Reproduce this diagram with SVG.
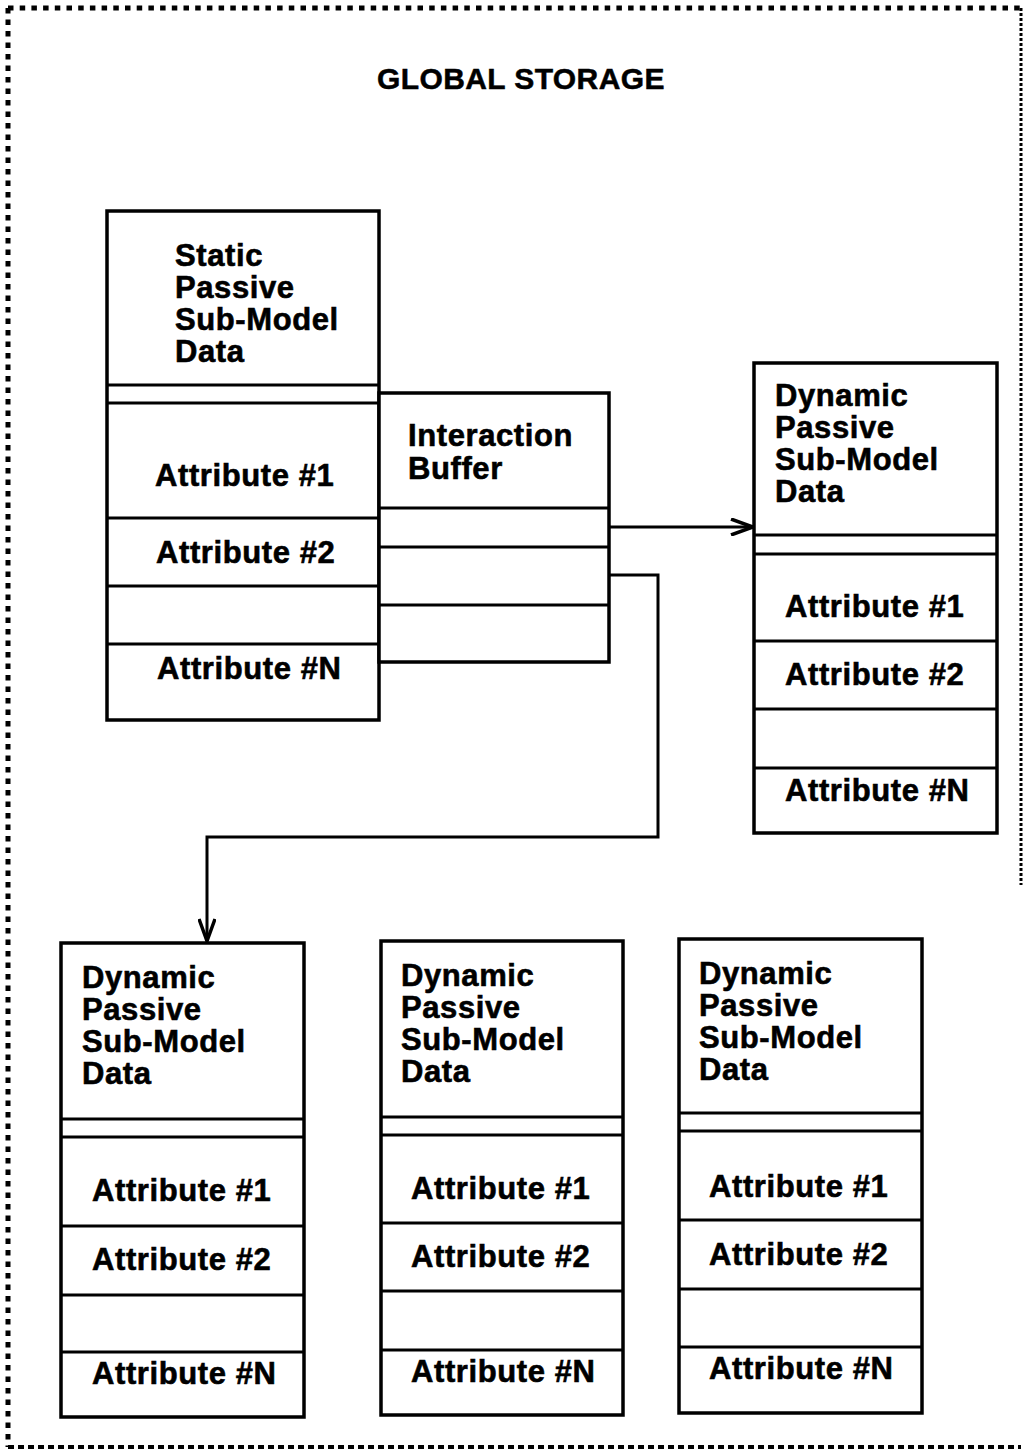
<svg xmlns="http://www.w3.org/2000/svg" width="1025" height="1454" viewBox="0 0 1025 1454">
  <style>
    .frame { fill: #fff; stroke: #000; stroke-width: 3.5; }
    .sep { stroke: #000; stroke-width: 3; fill: none; }
    .lbl { font-family: "Liberation Sans", Arial, Helvetica, sans-serif; font-weight: bold; font-size: 31px; letter-spacing: 0.6px; fill: #000; stroke: #000; stroke-width: 0.6px; }
    .title { font-family: "Liberation Sans", Arial, Helvetica, sans-serif; font-weight: bold; font-size: 30px; letter-spacing: 0.4px; fill: #000; stroke: #000; stroke-width: 0.5px; }
    .wire { fill: none; stroke: #000; stroke-width: 3; }
    .border { fill: none; stroke: #000; }
  </style>
  <defs>
    <marker id="vee" viewBox="0 0 24 18" refX="23" refY="9" markerWidth="24" markerHeight="18" markerUnits="userSpaceOnUse" orient="auto">
      <path d="M1,1 L23,9 L1,17" fill="none" stroke="#000" stroke-width="3.5"/>
    </marker>
  </defs>

  <rect x="0" y="0" width="1025" height="1454" fill="#fff"/>

  <!-- dotted storage boundary -->
  <g id="storage-boundary">
    <line class="border" x1="8" y1="8" x2="1021" y2="8" stroke-width="5" stroke-dasharray="5.5 6.2"/>
    <line class="border" x1="8" y1="8" x2="8" y2="1447" stroke-width="5" stroke-dasharray="5.5 6"/>
    <line class="border" x1="8" y1="1447" x2="1021" y2="1447" stroke-width="4" stroke-dasharray="6 4"/>
    <line class="border" x1="1021" y1="8" x2="1021" y2="885" stroke-width="3" stroke-dasharray="3 2"/>
    <text class="title" x="377" y="89">GLOBAL STORAGE</text>
  </g>

  <!-- connectors -->
  <g id="connectors">
    <path class="wire" d="M609,527 H753" marker-end="url(#vee)"/>
    <path class="wire" d="M609,575 H658 V837 H207 V941" marker-end="url(#vee)"/>
  </g>

  <!-- static passive sub-model -->
  <g id="static-passive">
    <rect class="frame" x="107" y="211" width="272" height="509"/>
    <line class="sep" x1="107" y1="385" x2="379" y2="385"/>
    <line class="sep" x1="107" y1="403" x2="379" y2="403"/>
    <line class="sep" x1="107" y1="518" x2="379" y2="518"/>
    <line class="sep" x1="107" y1="586" x2="379" y2="586"/>
    <line class="sep" x1="107" y1="644" x2="379" y2="644"/>
    <text class="lbl" x="175" y="266">Static</text>
    <text class="lbl" x="175" y="298">Passive</text>
    <text class="lbl" x="175" y="330">Sub-Model</text>
    <text class="lbl" x="175" y="362">Data</text>
    <text class="lbl" x="155" y="486">Attribute #1</text>
    <text class="lbl" x="156" y="563">Attribute #2</text>
    <text class="lbl" x="157" y="679">Attribute #N</text>
  </g>

  <!-- interaction buffer -->
  <g id="interaction-buffer">
    <rect class="frame" x="379" y="393" width="230" height="269"/>
    <line class="sep" x1="379" y1="508" x2="609" y2="508"/>
    <line class="sep" x1="379" y1="547" x2="609" y2="547"/>
    <line class="sep" x1="379" y1="605" x2="609" y2="605"/>
    <text class="lbl" x="408" y="446">Interaction</text>
    <text class="lbl" x="408" y="479">Buffer</text>
  </g>

  <!-- dynamic passive sub-model, upper right -->
  <g id="dynamic-passive-1">
    <rect class="frame" x="754" y="363" width="243" height="470"/>
    <line class="sep" x1="754" y1="535" x2="997" y2="535"/>
    <line class="sep" x1="754" y1="554" x2="997" y2="554"/>
    <line class="sep" x1="754" y1="641" x2="997" y2="641"/>
    <line class="sep" x1="754" y1="709" x2="997" y2="709"/>
    <line class="sep" x1="754" y1="768" x2="997" y2="768"/>
    <text class="lbl" x="775" y="406">Dynamic</text>
    <text class="lbl" x="775" y="438">Passive</text>
    <text class="lbl" x="775" y="470">Sub-Model</text>
    <text class="lbl" x="775" y="502">Data</text>
    <text class="lbl" x="785" y="617">Attribute #1</text>
    <text class="lbl" x="785" y="685">Attribute #2</text>
    <text class="lbl" x="785" y="801">Attribute #N</text>
  </g>

  <!-- dynamic passive sub-model, lower left -->
  <g id="dynamic-passive-2">
    <rect class="frame" x="61" y="943" width="243" height="474"/>
    <line class="sep" x1="61" y1="1119" x2="304" y2="1119"/>
    <line class="sep" x1="61" y1="1137" x2="304" y2="1137"/>
    <line class="sep" x1="61" y1="1226" x2="304" y2="1226"/>
    <line class="sep" x1="61" y1="1295" x2="304" y2="1295"/>
    <line class="sep" x1="61" y1="1352" x2="304" y2="1352"/>
    <text class="lbl" x="82" y="988">Dynamic</text>
    <text class="lbl" x="82" y="1020">Passive</text>
    <text class="lbl" x="82" y="1052">Sub-Model</text>
    <text class="lbl" x="82" y="1084">Data</text>
    <text class="lbl" x="92" y="1201">Attribute #1</text>
    <text class="lbl" x="92" y="1270">Attribute #2</text>
    <text class="lbl" x="92" y="1384">Attribute #N</text>
  </g>

  <!-- dynamic passive sub-model, lower middle -->
  <g id="dynamic-passive-3">
    <rect class="frame" x="381" y="941" width="242" height="474"/>
    <line class="sep" x1="381" y1="1117" x2="623" y2="1117"/>
    <line class="sep" x1="381" y1="1135" x2="623" y2="1135"/>
    <line class="sep" x1="381" y1="1223" x2="623" y2="1223"/>
    <line class="sep" x1="381" y1="1291" x2="623" y2="1291"/>
    <line class="sep" x1="381" y1="1350" x2="623" y2="1350"/>
    <text class="lbl" x="401" y="986">Dynamic</text>
    <text class="lbl" x="401" y="1018">Passive</text>
    <text class="lbl" x="401" y="1050">Sub-Model</text>
    <text class="lbl" x="401" y="1082">Data</text>
    <text class="lbl" x="411" y="1199">Attribute #1</text>
    <text class="lbl" x="411" y="1267">Attribute #2</text>
    <text class="lbl" x="411" y="1382">Attribute #N</text>
  </g>

  <!-- dynamic passive sub-model, lower right -->
  <g id="dynamic-passive-4">
    <rect class="frame" x="679" y="939" width="243" height="474"/>
    <line class="sep" x1="679" y1="1113" x2="922" y2="1113"/>
    <line class="sep" x1="679" y1="1131" x2="922" y2="1131"/>
    <line class="sep" x1="679" y1="1220" x2="922" y2="1220"/>
    <line class="sep" x1="679" y1="1289" x2="922" y2="1289"/>
    <line class="sep" x1="679" y1="1347" x2="922" y2="1347"/>
    <text class="lbl" x="699" y="984">Dynamic</text>
    <text class="lbl" x="699" y="1016">Passive</text>
    <text class="lbl" x="699" y="1048">Sub-Model</text>
    <text class="lbl" x="699" y="1080">Data</text>
    <text class="lbl" x="709" y="1197">Attribute #1</text>
    <text class="lbl" x="709" y="1265">Attribute #2</text>
    <text class="lbl" x="709" y="1379">Attribute #N</text>
  </g>
</svg>
